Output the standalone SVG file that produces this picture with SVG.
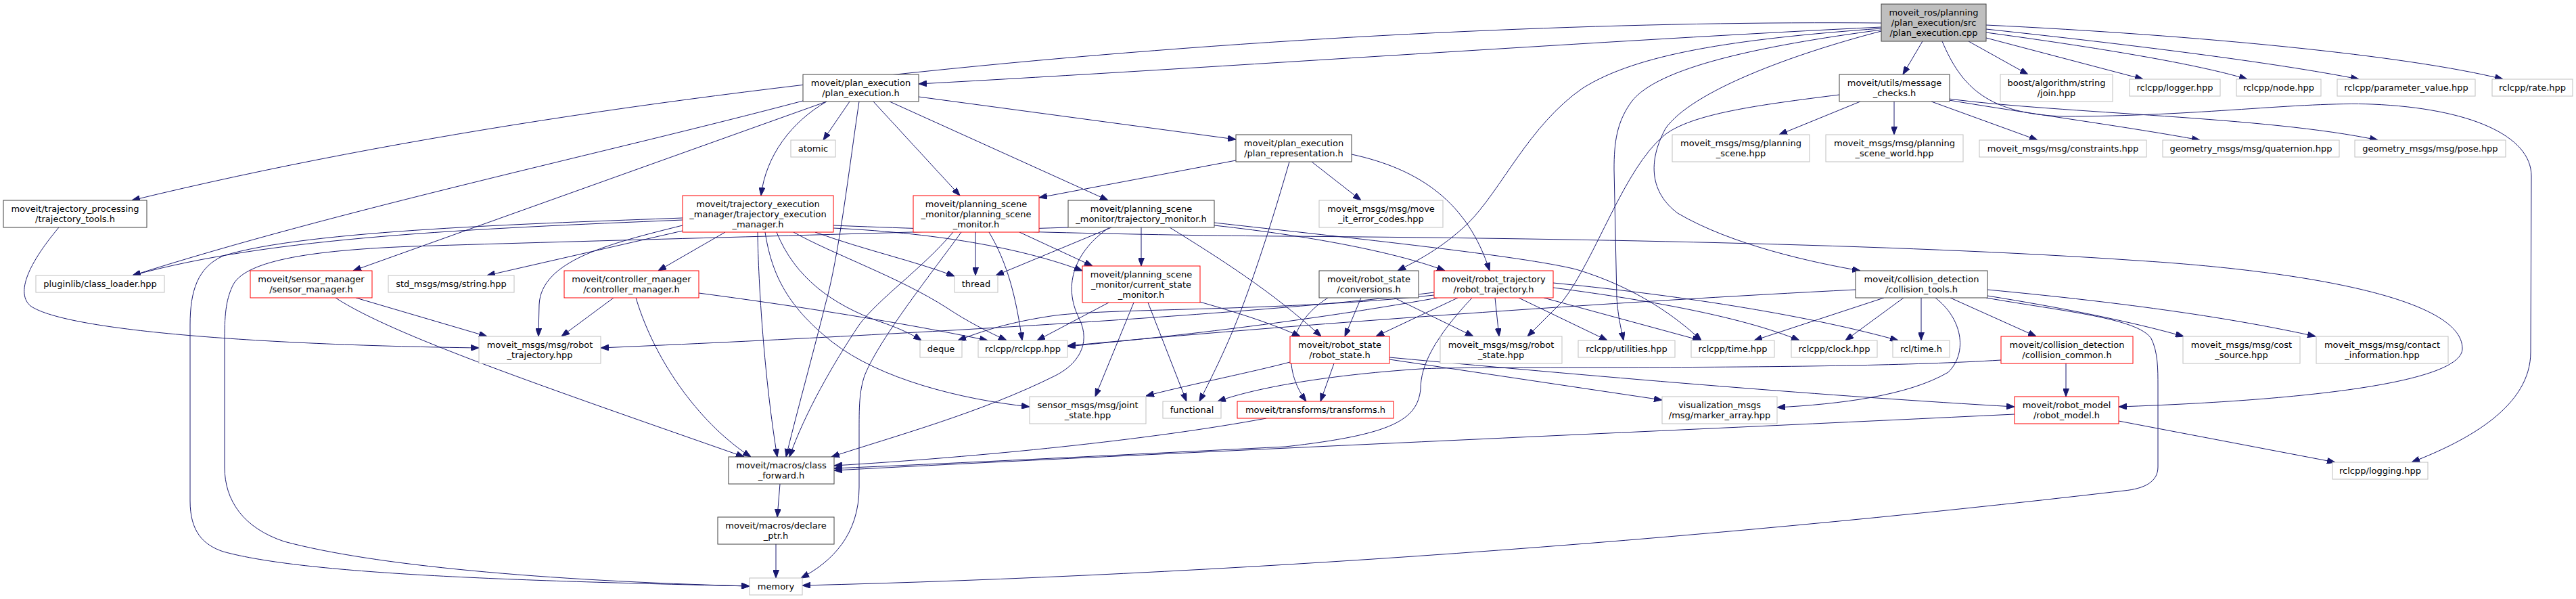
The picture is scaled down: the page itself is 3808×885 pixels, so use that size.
<svg xmlns="http://www.w3.org/2000/svg" width="3808" height="885" viewBox="0 0 3808 885">
<style>
rect{fill:#fff;stroke-width:1}
.d{stroke:#404040}
.r{stroke:#ff0000}
.g{stroke:#bfbfbf}
.top{fill:#bfbfbf;stroke:#404040}
text{font-family:"DejaVu Sans","Liberation Sans",sans-serif;font-size:13px;text-anchor:middle;fill:#000}
#edges path{fill:none;stroke:#191970;stroke-width:1;marker-end:url(#a)}
</style>
<defs>
<marker id="a" viewBox="0 0 12 9" refX="12" refY="4.5" markerWidth="12" markerHeight="9" markerUnits="userSpaceOnUse" orient="auto"><path d="M0,0L12,4.5L0,9z" fill="#191970" stroke="#191970" stroke-width="1"/></marker>
</defs>
<rect x="0" y="0" width="3808" height="885" style="fill:#fff;stroke:none"/>
<g id="edges">
<path d="M2781,40 C2400,58 1800,100 1358,124"/>
<path d="M2781,34 C2100,28 1000,100 195,296"/>
<path d="M2781,42 C2560,58 2420,80 2340,130 C2260,185 2220,280 2170,330 C2130,368 2095,385 2066,400"/>
<path d="M2781,44 C2600,68 2450,100 2412,150 C2390,180 2386,210 2386,250 L2390,440 C2392,470 2397,488 2400,503"/>
<path d="M2781,46 C2650,80 2500,135 2462,190 C2435,240 2440,285 2480,315 C2560,362 2680,388 2750,400"/>
<path d="M2842,61 L2813,110"/>
<path d="M2910,61 L2998,110"/>
<path d="M2936,56 L3168,117"/>
<path d="M2936,48 C3100,70 3250,95 3322,117"/>
<path d="M2936,43 C3150,66 3360,92 3487,117"/>
<path d="M2936,37 C3250,52 3560,82 3700,117"/>
<path d="M2871,61 C2900,130 2940,168 3050,172 C3250,172 3400,150 3507,154 C3650,160 3742,200 3742,260 L3741,520 C3741,600 3650,650 3565,683"/>
<path d="M2750,150 L2630,199"/>
<path d="M2800,150 L2800,199"/>
<path d="M2855,150 L3012,207"/>
<path d="M2881,148 C3000,168 3150,188 3252,207"/>
<path d="M2881,146 C3050,168 3350,172 3515,207"/>
<path d="M2719,140 C2600,155 2500,168 2460,200 C2400,250 2360,380 2310,445 L2258,497"/>
<path d="M1187,149 C900,225 500,310 196,407"/>
<path d="M1222,150 L522,400"/>
<path d="M1222,150 C1170,180 1132,230 1125,289"/>
<path d="M1256,150 L1217,207"/>
<path d="M1270,150 C1255,250 1240,380 1220,450 C1200,530 1175,620 1162,675"/>
<path d="M1291,150 L1419,289"/>
<path d="M1315,150 L1638,296"/>
<path d="M1358,143 L1827,206"/>
<path d="M1827,237 L1536,292"/>
<path d="M1939,239 L2012,296"/>
<path d="M1998,228 C2100,250 2170,300 2202,400"/>
<path d="M1906,239 C1880,330 1850,420 1830,470 C1810,520 1790,560 1773,593"/>
<path d="M1072,343 L973,400"/>
<path d="M1009,341 L720,407"/>
<path d="M1009,325 C700,338 400,350 196,407"/>
<path d="M1009,322 C800,330 450,340 330,378 C292,395 281,430 281,480 L281,740 C281,785 300,805 330,815 C450,848 750,858 1108,866"/>
<path d="M1579,336 C1300,345 900,355 640,363 C460,368 365,385 345,420 C335,440 332,460 332,500 L332,690 C332,740 360,780 420,800 C550,835 800,858 1108,866"/>
<path d="M1442,343 L1442,407"/>
<path d="M1507,343 L1615,393"/>
<path d="M1421,343 C1380,400 1300,500 1278,555 C1270,580 1270,600 1270,640 L1270,720 C1270,790 1230,830 1184,854"/>
<path d="M1409,343 C1360,400 1300,440 1270,480 C1230,540 1190,610 1167,675"/>
<path d="M1462,343 C1490,390 1502,440 1511,503"/>
<path d="M1131,343 C1140,400 1160,450 1230,505 C1300,560 1420,590 1522,601"/>
<path d="M1148,343 C1175,410 1230,450 1300,475 C1330,485 1350,495 1362,503"/>
<path d="M1173,343 C1230,375 1330,410 1400,455 C1430,475 1460,490 1488,503"/>
<path d="M1033,433 C1200,455 1350,480 1460,503"/>
<path d="M1639,447 L1533,503"/>
<path d="M2120,436 C1900,460 1650,455 1560,466 C1490,476 1450,490 1416,503"/>
<path d="M1676,447 L1619,586"/>
<path d="M1697,447 L1754,593"/>
<path d="M1770,445 C1830,462 1880,478 1922,497"/>
<path d="M1643,336 L1472,407"/>
<path d="M1687,336 L1687,393"/>
<path d="M1640,336 C1590,370 1570,420 1595,470 C1615,510 1590,540 1560,555 C1450,610 1320,645 1229,675"/>
<path d="M1795,333 C1950,350 2070,375 2136,400"/>
<path d="M1795,329 C2000,352 2250,378 2330,398 C2420,425 2480,470 2515,503"/>
<path d="M1729,336 C1800,380 1880,430 1953,497"/>
<path d="M2012,440 L1988,497"/>
<path d="M1963,440 C1900,480 1895,545 1931,593"/>
<path d="M2061,440 L2178,497"/>
<path d="M2120,432 C1900,460 1400,492 888,514"/>
<path d="M2125,440 C1900,480 1700,500 1578,512"/>
<path d="M2155,440 L2034,497"/>
<path d="M2176,440 C2120,500 2100,540 2100,575 C2095,620 2060,642 1900,660 C1600,675 1400,685 1233,692"/>
<path d="M2210,440 L2216,497"/>
<path d="M2245,440 L2376,503"/>
<path d="M2282,440 L2514,503"/>
<path d="M2296,425 C2450,445 2580,470 2660,503"/>
<path d="M2296,418 C2500,438 2680,468 2806,503"/>
<path d="M1972,537 L1952,593"/>
<path d="M2054,528 C2400,560 2700,585 2978,601"/>
<path d="M2054,531 L2457,591"/>
<path d="M1907,535 C1850,550 1750,570 1694,585"/>
<path d="M1872,618 C1700,650 1450,675 1233,688"/>
<path d="M2978,612 C2500,635 1700,670 1233,695"/>
<path d="M3132,622 L3452,683"/>
<path d="M3054,537 L3054,586"/>
<path d="M2958,532 C2700,548 2200,540 2100,545 C1950,555 1850,575 1800,593"/>
<path d="M2785,440 L2593,503"/>
<path d="M2814,440 L2728,503"/>
<path d="M2840,440 L2840,503"/>
<path d="M2861,440 C2900,470 2910,520 2880,550 C2820,585 2720,597 2627,602"/>
<path d="M2883,440 L3010,497"/>
<path d="M2938,437 C3050,455 3150,475 3228,497"/>
<path d="M2938,428 C3150,448 3300,470 3423,497"/>
<path d="M2936,440 C3050,460 3160,470 3180,500 C3190,520 3190,545 3190,570 L3190,690 C3190,712 3170,722 3140,725 C2500,800 1800,850 1186,865"/>
<path d="M2743,428 C2400,445 1900,480 1578,511"/>
<path d="M1232,337 C1400,345 1520,370 1600,400"/>
<path d="M1205,343 C1280,370 1350,385 1411,408"/>
<path d="M1232,333 C1400,340 1700,348 1900,349 C2300,352 2800,360 3160,385 C3400,400 3640,440 3640,515 C3640,560 3450,590 3132,601"/>
<path d="M907,440 L830,497"/>
<path d="M940,440 C970,540 1040,630 1110,675"/>
<path d="M526,440 L720,497"/>
<path d="M496,440 C580,495 800,570 1100,675"/>
<path d="M87,336 C50,380 20,430 45,452 C100,490 400,510 708,514"/>
<path d="M1009,333 C900,360 800,385 797,450 L796,497"/>
<path d="M1120,343 C1121,420 1130,560 1149,675"/>
<path d="M1153,715 L1149,764"/>
<path d="M1147,804 L1147,854"/>
</g>
<g id="n_top"><rect class="top" x="2781" y="6" width="155" height="55"/><text x="2858.5" y="23">moveit_ros/planning</text><text x="2858.5" y="38">/plan_execution/src</text><text x="2858.5" y="53">/plan_execution.cpp</text></g>
<g id="n_pe"><rect class="d" x="1187" y="110" width="171" height="40"/><text x="1272.5" y="127">moveit/plan_execution</text><text x="1272.5" y="142">/plan_execution.h</text></g>
<g id="n_mc"><rect class="d" x="2719" y="110" width="163" height="40"/><text x="2800.5" y="127">moveit/utils/message</text><text x="2800.5" y="142">_checks.h</text></g>
<g id="n_join"><rect class="g" x="2957" y="110" width="166" height="40"/><text x="3040" y="127">boost/algorithm/string</text><text x="3040" y="142">/join.hpp</text></g>
<g id="n_logger"><rect class="g" x="3148" y="117" width="134" height="25"/><text x="3215" y="134">rclcpp/logger.hpp</text></g>
<g id="n_node"><rect class="g" x="3306" y="117" width="125" height="25"/><text x="3368.5" y="134">rclcpp/node.hpp</text></g>
<g id="n_pv"><rect class="g" x="3455" y="117" width="204" height="25"/><text x="3557" y="134">rclcpp/parameter_value.hpp</text></g>
<g id="n_rate"><rect class="g" x="3684" y="117" width="119" height="25"/><text x="3743.5" y="134">rclcpp/rate.hpp</text></g>
<g id="n_tt"><rect class="d" x="5" y="296" width="212" height="40"/><text x="111" y="313">moveit/trajectory_processing</text><text x="111" y="328">/trajectory_tools.h</text></g>
<g id="n_atomic"><rect class="g" x="1169" y="207" width="66" height="25"/><text x="1202" y="224">atomic</text></g>
<g id="n_pr"><rect class="d" x="1827" y="199" width="171" height="40"/><text x="1912.5" y="216">moveit/plan_execution</text><text x="1912.5" y="231">/plan_representation.h</text></g>
<g id="n_ps"><rect class="g" x="2472" y="199" width="203" height="40"/><text x="2573.5" y="216">moveit_msgs/msg/planning</text><text x="2573.5" y="231">_scene.hpp</text></g>
<g id="n_psw"><rect class="g" x="2699" y="199" width="203" height="40"/><text x="2800.5" y="216">moveit_msgs/msg/planning</text><text x="2800.5" y="231">_scene_world.hpp</text></g>
<g id="n_cons"><rect class="g" x="2926" y="207" width="247" height="25"/><text x="3049.5" y="224">moveit_msgs/msg/constraints.hpp</text></g>
<g id="n_quat"><rect class="g" x="3197" y="207" width="261" height="25"/><text x="3327.5" y="224">geometry_msgs/msg/quaternion.hpp</text></g>
<g id="n_pose"><rect class="g" x="3481" y="207" width="223" height="25"/><text x="3592.5" y="224">geometry_msgs/msg/pose.hpp</text></g>
<g id="n_tem"><rect class="r" x="1009" y="289" width="223" height="54"/><text x="1120.5" y="305.5">moveit/trajectory_execution</text><text x="1120.5" y="320.5">_manager/trajectory_execution</text><text x="1120.5" y="335.5">_manager.h</text></g>
<g id="n_psm"><rect class="r" x="1350" y="289" width="186" height="54"/><text x="1443" y="305.5">moveit/planning_scene</text><text x="1443" y="320.5">_monitor/planning_scene</text><text x="1443" y="335.5">_monitor.h</text></g>
<g id="n_tm"><rect class="d" x="1579" y="296" width="216" height="40"/><text x="1687" y="313">moveit/planning_scene</text><text x="1687" y="328">_monitor/trajectory_monitor.h</text></g>
<g id="n_err"><rect class="g" x="1950" y="296" width="183" height="40"/><text x="2041.5" y="313">moveit_msgs/msg/move</text><text x="2041.5" y="328">_it_error_codes.hpp</text></g>
<g id="n_plug"><rect class="g" x="53" y="407" width="190" height="25"/><text x="148" y="424">pluginlib/class_loader.hpp</text></g>
<g id="n_sm"><rect class="r" x="370" y="400" width="180" height="40"/><text x="460" y="417">moveit/sensor_manager</text><text x="460" y="432">/sensor_manager.h</text></g>
<g id="n_str"><rect class="g" x="574" y="407" width="186" height="25"/><text x="667" y="424">std_msgs/msg/string.hpp</text></g>
<g id="n_cm"><rect class="r" x="834" y="400" width="199" height="40"/><text x="933.5" y="417">moveit/controller_manager</text><text x="933.5" y="432">/controller_manager.h</text></g>
<g id="n_thread"><rect class="g" x="1411" y="407" width="64" height="25"/><text x="1443" y="424">thread</text></g>
<g id="n_csm"><rect class="r" x="1600" y="393" width="174" height="54"/><text x="1687" y="409.5">moveit/planning_scene</text><text x="1687" y="424.5">_monitor/current_state</text><text x="1687" y="439.5">_monitor.h</text></g>
<g id="n_conv"><rect class="d" x="1950" y="400" width="147" height="40"/><text x="2023.5" y="417">moveit/robot_state</text><text x="2023.5" y="432">/conversions.h</text></g>
<g id="n_rt"><rect class="r" x="2120" y="400" width="176" height="40"/><text x="2208" y="417">moveit/robot_trajectory</text><text x="2208" y="432">/robot_trajectory.h</text></g>
<g id="n_ct"><rect class="d" x="2743" y="400" width="195" height="40"/><text x="2840.5" y="417">moveit/collision_detection</text><text x="2840.5" y="432">/collision_tools.h</text></g>
<g id="n_deque"><rect class="g" x="1360" y="503" width="62" height="25"/><text x="1391" y="520">deque</text></g>
<g id="n_rcl"><rect class="g" x="1446" y="503" width="132" height="25"/><text x="1512" y="520">rclcpp/rclcpp.hpp</text></g>
<g id="n_rsh"><rect class="r" x="1907" y="497" width="147" height="40"/><text x="1980.5" y="514">moveit/robot_state</text><text x="1980.5" y="529">/robot_state.h</text></g>
<g id="n_rshpp"><rect class="g" x="2129" y="497" width="180" height="40"/><text x="2219" y="514">moveit_msgs/msg/robot</text><text x="2219" y="529">_state.hpp</text></g>
<g id="n_util"><rect class="g" x="2333" y="503" width="143" height="25"/><text x="2404.5" y="520">rclcpp/utilities.hpp</text></g>
<g id="n_time"><rect class="g" x="2500" y="503" width="123" height="25"/><text x="2561.5" y="520">rclcpp/time.hpp</text></g>
<g id="n_clock"><rect class="g" x="2648" y="503" width="127" height="25"/><text x="2711.5" y="520">rclcpp/clock.hpp</text></g>
<g id="n_rcltime"><rect class="g" x="2798" y="503" width="84" height="25"/><text x="2840" y="520">rcl/time.h</text></g>
<g id="n_cc"><rect class="r" x="2958" y="497" width="195" height="40"/><text x="3055.5" y="514">moveit/collision_detection</text><text x="3055.5" y="529">/collision_common.h</text></g>
<g id="n_cost"><rect class="g" x="3227" y="497" width="173" height="40"/><text x="3313.5" y="514">moveit_msgs/msg/cost</text><text x="3313.5" y="529">_source.hpp</text></g>
<g id="n_contact"><rect class="g" x="3424" y="497" width="195" height="40"/><text x="3521.5" y="514">moveit_msgs/msg/contact</text><text x="3521.5" y="529">_information.hpp</text></g>
<g id="n_rthpp"><rect class="g" x="708" y="497" width="180" height="40"/><text x="798" y="514">moveit_msgs/msg/robot</text><text x="798" y="529">_trajectory.hpp</text></g>
<g id="n_joint"><rect class="g" x="1522" y="586" width="172" height="40"/><text x="1608" y="603">sensor_msgs/msg/joint</text><text x="1608" y="618">_state.hpp</text></g>
<g id="n_func"><rect class="g" x="1719" y="593" width="86" height="25"/><text x="1762" y="610">functional</text></g>
<g id="n_transf"><rect class="r" x="1829" y="593" width="231" height="25"/><text x="1944.5" y="610">moveit/transforms/transforms.h</text></g>
<g id="n_vis"><rect class="g" x="2457" y="586" width="170" height="40"/><text x="2542" y="603">visualization_msgs</text><text x="2542" y="618">/msg/marker_array.hpp</text></g>
<g id="n_rm"><rect class="r" x="2978" y="586" width="154" height="40"/><text x="3055" y="603">moveit/robot_model</text><text x="3055" y="618">/robot_model.h</text></g>
<g id="n_cf"><rect class="d" x="1077" y="675" width="156" height="40"/><text x="1155" y="692">moveit/macros/class</text><text x="1155" y="707">_forward.h</text></g>
<g id="n_logging"><rect class="g" x="3448" y="683" width="141" height="25"/><text x="3518.5" y="700">rclcpp/logging.hpp</text></g>
<g id="n_decl"><rect class="d" x="1061" y="764" width="172" height="40"/><text x="1147" y="781">moveit/macros/declare</text><text x="1147" y="796">_ptr.h</text></g>
<g id="n_mem"><rect class="g" x="1108" y="854" width="78" height="25"/><text x="1147" y="871">memory</text></g>
</svg>
